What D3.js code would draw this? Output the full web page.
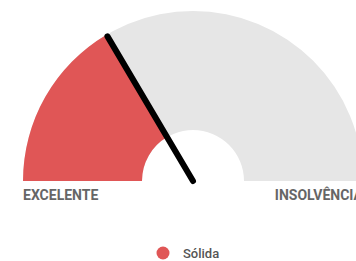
<!DOCTYPE html>
<html>
<head>
<meta charset="utf-8">
<script src="https://cdn.jsdelivr.net/npm/d3@7"></script>
<style>
  body { margin: 0; background: #fff; }
  text { font-family: Roboto, sans-serif; }
</style>
</head>
<body>
<div id="gauge"></div>
<script>
// gauge data
const gaugeRange = [0, 100];
const gaugeValue = [33];
const endLabels = ['EXCELENTE', 'INSOLVÊNCIA'];
const legendLabels = ['Sólida'];

const width = 356;
const height = 261;
const cx = 193;
const cy = 181;
const outerR = 170;
const innerR = 51;

const svg = d3.select('#gauge').append('svg')
  .attr('width', width)
  .attr('height', height);

const g = svg.append('g')
  .attr('transform', 'translate(' + cx + ',' + cy + ')');

// value -> angle
const angle = d3.scaleLinear().domain(gaugeRange).range([-Math.PI / 2, Math.PI / 2]);

const arc = d3.arc().innerRadius(innerR).outerRadius(outerR);

// background track
g.append('path')
  .attr('d', arc({ startAngle: angle(gaugeRange[0]), endAngle: angle(gaugeRange[1]) }))
  .style('fill', '#e6e6e6');

// filled part
g.append('path')
  .attr('d', arc({ startAngle: angle(gaugeRange[0]), endAngle: angle(gaugeValue[0]) }))
  .style('fill', '#e05656');

// needle
const a = angle(gaugeValue[0]);
g.append('line')
  .attr('x1', 0)
  .attr('y1', 0)
  .attr('x2', Math.sin(a) * (outerR - 2))
  .attr('y2', -Math.cos(a) * (outerR - 2))
  .style('stroke', '#000')
  .style('stroke-width', 6)
  .style('stroke-linecap', 'round');

// end labels
g.append('text')
  .attr('x', -outerR)
  .attr('y', 19)
  .style('font-size', '14px')
  .style('font-weight', 'bold')
  .style('fill', '#666')
  .text(endLabels[0]);

g.append('text')
  .attr('x', outerR)
  .attr('y', 19)
  .attr('text-anchor', 'end')
  .style('font-size', '14px')
  .style('font-weight', 'bold')
  .style('fill', '#666')
  .text(endLabels[1]);

// legend
const legend = svg.append('g')
  .attr('transform', 'translate(163,253)');

legend.append('circle')
  .attr('r', 6.5)
  .style('fill', '#e05656');

legend.append('text')
  .attr('x', 20)
  .attr('y', 5)
  .style('font-size', '13px')
  .style('font-weight', 500)
  .style('fill', '#555')
  .text(legendLabels[0]);
</script>
</body>
</html>
